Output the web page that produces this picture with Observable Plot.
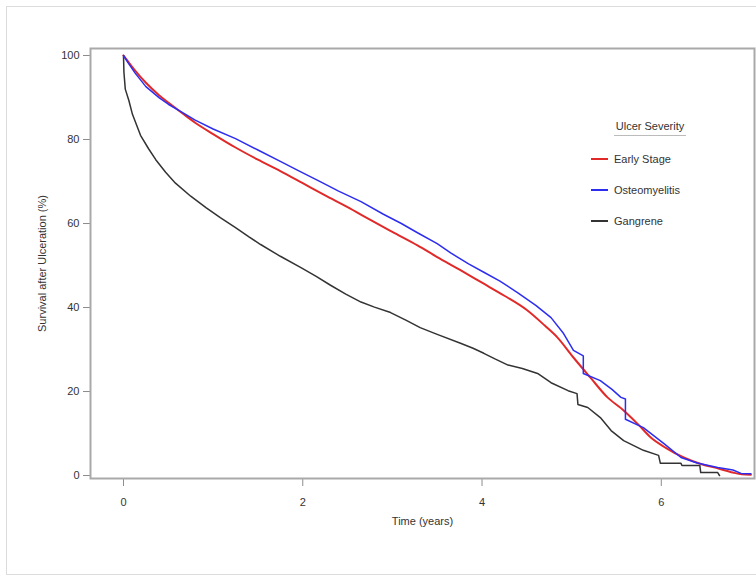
<!DOCTYPE html>
<html>
<head>
<meta charset="utf-8">
<script src="https://cdn.jsdelivr.net/npm/d3@7"></script>
<script src="https://cdn.jsdelivr.net/npm/@observablehq/plot@0.6"></script>
<style>
  html, body { margin: 0; padding: 0; background: #fff; }
  #wrap { position: relative; width: 756px; height: 577px; overflow: hidden; font-family: "Liberation Sans", Arial, sans-serif; color: #333; }
  #border { position: absolute; left: 6px; top: 6px; width: 770px; height: 569px; border: 1px solid #dcdcdc; box-sizing: border-box; }
  #chart { position: absolute; left: 0; top: 0; }
  #legend { position: absolute; left: 585px; top: 120px; font-size: 11px; color: #333; }
  #legend .title { position: absolute; left: 29px; top: 0; width: 72px; text-align: center; border-bottom: 1px solid #bbb; padding-bottom: 3px; white-space: nowrap; }
  #legend .item { position: absolute; left: 6px; white-space: nowrap; height: 14px; line-height: 14px; }
  #legend .sw { display: inline-block; width: 17px; height: 0; border-top: 2.5px solid; vertical-align: middle; margin-right: 6px; position: relative; top: -1px; }
</style>
</head>
<body>
<div id="wrap">
  <div id="border"></div>
  <div id="chart"></div>
  <div id="legend"></div>
</div>
<script>
// ---- data ----
const seriesNames = ["Early Stage", "Osteomyelitis", "Gangrene"];
const seriesColors = ["#e02a2a", "#2d2df0", "#333333"];
const legendTitle = "Ulcer Severity";
const xTitle = "Time (years)";
const yTitle = "Survival after Ulceration (%)";
const xTicks = [0, 2, 4, 6];
const yTicks = [0, 20, 40, 60, 80, 100];

const earlyT = [0, 0.05, 0.13, 0.25, 0.4, 0.5, 0.66, 0.8, 1.0, 1.25, 1.5, 1.75, 2.0, 2.25, 2.5, 2.75, 3.0, 3.28, 3.5, 3.75, 4.0, 4.25, 4.5, 4.7, 4.84, 5.02, 5.21, 5.4, 5.58, 5.75, 5.88, 6.05, 6.25, 6.45, 6.63, 6.8, 6.9, 7.0];
const earlyS = [100, 98.6, 96.4, 93.5, 90.5, 88.8, 86.2, 84, 81.3, 78.1, 75.2, 72.5, 69.6, 66.7, 63.9, 60.9, 58, 54.8, 52, 49, 45.9, 42.8, 39.4, 35.7, 32.9, 28.1, 23.3, 18.6, 15.5, 12, 9.1, 6.6, 4.3, 2.7, 1.7, 0.7, 0.3, 0.2];

const osteoT = [0, 0.05, 0.13, 0.25, 0.4, 0.5, 0.66, 0.8, 1.0, 1.25, 1.5, 1.75, 1.94, 2.2, 2.4, 2.65, 2.9, 3.1, 3.28, 3.5, 3.65, 3.85, 4.02, 4.2, 4.4, 4.6, 4.77, 4.91, 5.02, 5.13, 5.13, 5.32, 5.45, 5.55, 5.6, 5.6, 5.8, 6.03, 6.22, 6.4, 6.63, 6.8, 6.89, 7.0];
const osteoS = [100, 98.3, 95.8, 92.6, 89.9, 88.4, 86.4, 84.6, 82.5, 80.2, 77.5, 74.8, 72.7, 69.9, 67.7, 65.2, 62.2, 60, 57.8, 55.2, 53, 50.4, 48.4, 46.3, 43.5, 40.5, 37.6, 33.8, 29.8, 28.5, 24.3, 22.6, 20.5, 18.6, 18.2, 13.4, 11.4, 7.6, 4.3, 3, 1.9, 1.3, 0.5, 0.4];

const gangT = [0, 0.005, 0.02, 0.06, 0.1, 0.19, 0.28, 0.36, 0.47, 0.58, 0.75, 0.92, 1.08, 1.25, 1.4, 1.53, 1.75, 1.98, 2.15, 2.31, 2.48, 2.65, 2.8, 2.98, 3.15, 3.31, 3.5, 3.76, 3.9, 4.02, 4.15, 4.29, 4.45, 4.62, 4.77, 4.96, 5.06, 5.07, 5.18, 5.32, 5.44, 5.58, 5.8, 5.97, 5.99, 6.22, 6.23, 6.43, 6.44, 6.63, 6.64, 6.65];
const gangS = [100, 96, 92, 89.3, 86, 81, 77.8, 75.2, 72.2, 69.6, 66.5, 63.8, 61.4, 59, 56.8, 55, 52.2, 49.5, 47.4, 45.3, 43.2, 41.3, 40.1, 38.8, 37, 35.2, 33.6, 31.5, 30.3, 29.1, 27.7, 26.3, 25.5, 24.3, 22.1, 20.2, 19.5, 16.9, 16.2, 13.8, 10.7, 8.3, 6, 4.8, 2.9, 2.9, 2.4, 2.4, 0.7, 0.7, 0.3, 0];

const toRows = (T, S) => T.map((t, i) => ({t, s: S[i]}));
const early = toRows(earlyT, earlyS);
const osteo = toRows(osteoT, osteoS);
const gang = toRows(gangT, gangS);

const chart = Plot.plot({
  width: 756,
  height: 577,
  marginLeft: 90,
  marginRight: 2,
  marginTop: 48,
  marginBottom: 99,
  style: { fontFamily: '"Liberation Sans", Arial, sans-serif', fontSize: "11px", color: "#333", background: "transparent", overflow: "visible" },
  x: { domain: [-0.368, 7.04] },
  y: { domain: [-0.71, 101.67] },
  marks: [
    Plot.axisY({ ticks: yTicks, tickSize: 7, tickPadding: 4, stroke: "#8c8c8c", fill: "#333", label: yTitle, labelAnchor: "center", labelOffset: 52, labelArrow: "none" }),
    Plot.axisX({ ticks: xTicks, tickSize: 8, tickPadding: 12, stroke: "#8c8c8c", fill: "#333", label: xTitle, labelAnchor: "center", labelOffset: 46, labelArrow: "none" }),
    Plot.line(gang, { x: "t", y: "s", stroke: seriesColors[2], strokeWidth: 1.5 }),
    Plot.line(early, { x: "t", y: "s", stroke: seriesColors[0], strokeWidth: 2, curve: "monotone-x" }),
    Plot.line(osteo, { x: "t", y: "s", stroke: seriesColors[1], strokeWidth: 1.5 }),
    Plot.frame({ stroke: "#a9a9a9", strokeWidth: 2 })
  ]
});
document.getElementById("chart").appendChild(chart);

// legend
const lg = document.getElementById("legend");
const title = document.createElement("div");
title.className = "title";
title.textContent = legendTitle;
lg.appendChild(title);
seriesNames.forEach((name, i) => {
  const it = document.createElement("div");
  it.className = "item";
  it.style.top = (32 + i * 31) + "px";
  const sw = document.createElement("span");
  sw.className = "sw";
  sw.style.borderTopColor = seriesColors[i];
  it.appendChild(sw);
  it.appendChild(document.createTextNode(name));
  lg.appendChild(it);
});
</script>
</body>
</html>
